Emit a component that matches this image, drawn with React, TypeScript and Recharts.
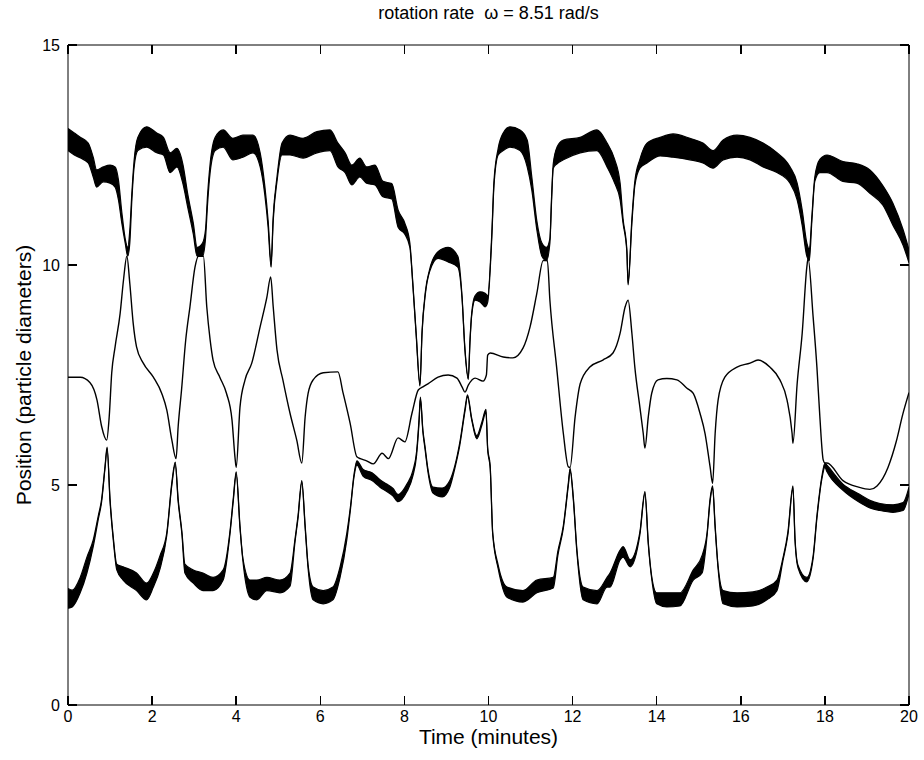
import { ComposedChart, Area, Line, XAxis, YAxis, Label, ReferenceLine } from "recharts";

const xTicks = [0, 2, 4, 6, 8, 10, 12, 14, 16, 18, 20];
const yTicks = [0, 5, 10, 15];

// [time, lower edge, upper edge] of the thick top trace
const upperBand: [number, number, number][] = [
  [0, 12.6, 13.1], [0.15, 12.5, 13.0], [0.3, 12.43, 12.9], [0.48, 12.32, 12.77], [0.6, 12.0, 12.45],
  [0.68, 11.77, 12.16], [0.84, 11.89, 12.23], [1.0, 11.86, 12.27], [1.12, 11.77, 12.23], [1.2, 11.48, 11.93],
  [1.28, 10.95, 11.2], [1.36, 10.5, 10.6], [1.42, 10.2, 10.4], [1.47, 10.5, 10.8], [1.52, 11.5, 11.65],
  [1.57, 12.2, 12.35], [1.66, 12.6, 12.9], [1.87, 12.68, 13.14], [2.11, 12.55, 13.0], [2.27, 12.5, 12.9],
  [2.43, 12.1, 12.55], [2.59, 12.23, 12.65], [2.73, 11.86, 12.3], [2.85, 11.3, 11.6], [2.98, 10.7, 10.95],
  [3.07, 10.2, 10.4], [3.2, 10.2, 10.5], [3.27, 10.6, 10.8], [3.32, 11.4, 11.6], [3.38, 12.1, 12.3],
  [3.5, 12.6, 12.9], [3.69, 12.68, 13.07], [3.92, 12.39, 12.88], [4.16, 12.45, 12.95], [4.4, 12.55, 12.95],
  [4.57, 12.23, 12.55], [4.68, 11.6, 11.8], [4.76, 10.85, 11.0], [4.83, 9.95, 10.05], [4.88, 11.0, 11.1],
  [4.97, 11.9, 12.0], [5.09, 12.5, 12.77], [5.28, 12.5, 12.95], [5.59, 12.43, 12.88], [5.92, 12.55, 13.03],
  [6.23, 12.6, 13.07], [6.42, 12.23, 12.77], [6.59, 12.1, 12.55], [6.75, 11.82, 12.27], [6.94, 12.0, 12.43],
  [7.1, 11.86, 12.23], [7.3, 11.82, 12.27], [7.49, 11.55, 11.9], [7.7, 11.5, 11.85], [7.85, 10.86, 11.25],
  [8.01, 10.7, 10.95], [8.13, 10.4, 10.5], [8.2, 9.55, 9.6], [8.28, 8.4, 8.45], [8.37, 7.25, 7.3],
  [8.42, 8.45, 8.5], [8.5, 9.35, 9.4], [8.6, 9.85, 9.9], [8.8, 10.15, 10.3], [9.04, 10.07, 10.4],
  [9.27, 9.95, 10.2], [9.37, 9.25, 9.3], [9.44, 8.05, 8.1], [9.52, 7.4, 7.45], [9.56, 8.25, 8.3],
  [9.6, 8.85, 8.9], [9.68, 9.2, 9.3], [9.8, 9.16, 9.39], [9.92, 9.05, 9.36], [9.98, 9.15, 9.3],
  [10.08, 10.65, 10.75], [10.13, 11.8, 11.9], [10.23, 12.5, 12.65], [10.35, 12.6, 13.0], [10.51, 12.68, 13.14],
  [10.75, 12.6, 13.07], [10.92, 12.23, 12.84], [11.03, 11.7, 12.0], [11.15, 10.8, 11.0], [11.27, 10.2, 10.5],
  [11.38, 10.1, 10.4], [11.46, 10.5, 10.6], [11.5, 11.45, 11.55], [11.54, 12.2, 12.3], [11.63, 12.3, 12.68],
  [11.78, 12.39, 12.84], [12.18, 12.55, 12.9], [12.58, 12.6, 13.07], [12.82, 12.23, 12.77], [13.0, 11.86, 12.4],
  [13.13, 11.48, 11.86], [13.2, 10.95, 11.05], [13.29, 10.3, 10.35], [13.32, 9.55, 9.6], [13.41, 10.95, 11.05],
  [13.48, 11.8, 11.9], [13.6, 12.2, 12.4], [13.77, 12.32, 12.77], [14.08, 12.48, 12.9], [14.39, 12.45, 12.98],
  [14.79, 12.39, 12.88], [15.1, 12.32, 12.77], [15.34, 12.2, 12.6], [15.58, 12.39, 12.84], [15.91, 12.45, 12.95],
  [16.22, 12.39, 12.9], [16.53, 12.23, 12.77], [16.86, 12.1, 12.55], [17.17, 11.86, 12.23], [17.34, 11.48, 11.86],
  [17.46, 10.9, 11.25], [17.57, 10.2, 10.5], [17.63, 10.1, 10.35], [17.69, 11.0, 11.1], [17.76, 11.9, 12.0],
  [17.88, 12.1, 12.4], [18.05, 12.1, 12.5], [18.43, 11.9, 12.35], [18.76, 11.86, 12.3], [19.07, 11.63, 12.16],
  [19.38, 11.36, 11.8], [19.62, 10.9, 11.4], [19.86, 10.45, 10.8], [20.0, 10.05, 10.34],
];

// [time, position] of the thin middle trace
const middleLine: [number, number][] = [
  [0, 7.45], [0.29, 7.45], [0.52, 7.33], [0.69, 6.93], [0.8, 6.33], [0.92, 6.02], [0.98, 6.55], [1.04, 7.55],
  [1.12, 8.14], [1.24, 8.9], [1.32, 9.66], [1.4, 10.2], [1.47, 9.58], [1.55, 8.68], [1.63, 8.14], [1.79, 7.77],
  [2.03, 7.45], [2.23, 7.08], [2.35, 6.7], [2.47, 6.02], [2.57, 5.6], [2.62, 6.33], [2.7, 7.16], [2.8, 8.3],
  [2.9, 9.05], [3.02, 9.95], [3.1, 10.2], [3.22, 10.2], [3.3, 9.05], [3.38, 8.3], [3.45, 7.84], [3.61, 7.45],
  [3.77, 7.08], [3.9, 6.48], [3.97, 5.64], [4.0, 5.4], [4.09, 6.77], [4.21, 7.39], [4.37, 7.77], [4.57, 8.6],
  [4.73, 9.27], [4.82, 9.73], [4.88, 9.05], [4.97, 8.07], [5.11, 7.39], [5.28, 6.63], [5.44, 6.02], [5.56, 5.5],
  [5.64, 6.55], [5.71, 7.08], [5.83, 7.39], [6.07, 7.55], [6.42, 7.57], [6.54, 7.1], [6.71, 6.4], [6.87, 5.64],
  [6.95, 5.6], [7.1, 5.55], [7.26, 5.48], [7.47, 5.72], [7.62, 5.6], [7.85, 6.07], [8.01, 5.98], [8.18, 6.63],
  [8.33, 7.16], [8.44, 7.23], [8.56, 7.3], [8.8, 7.45], [9.04, 7.5], [9.25, 7.43], [9.37, 7.23], [9.44, 7.11],
  [9.52, 7.27], [9.68, 7.43], [9.87, 7.36], [9.95, 7.5], [9.98, 7.95], [10.04, 8.0], [10.35, 7.91], [10.58, 7.89],
  [10.82, 8.11], [10.99, 8.6], [11.15, 9.36], [11.3, 10.1], [11.4, 10.1], [11.46, 9.2], [11.62, 7.68], [11.78, 6.17],
  [11.9, 5.41], [11.94, 5.4], [12.06, 6.55], [12.18, 7.3], [12.41, 7.68], [12.72, 7.84], [12.96, 8.0], [13.13, 8.45],
  [13.25, 9.05], [13.32, 9.2], [13.41, 8.45], [13.48, 7.68], [13.6, 6.77], [13.68, 6.17], [13.72, 5.84], [13.8, 6.55],
  [13.88, 7.08], [14.03, 7.39], [14.24, 7.42], [14.48, 7.39], [14.72, 7.2], [14.87, 7.08], [15.03, 6.63], [15.15, 6.17],
  [15.27, 5.41], [15.33, 5.04], [15.39, 6.17], [15.46, 6.93], [15.62, 7.45], [15.91, 7.68], [16.22, 7.77], [16.41, 7.84],
  [16.69, 7.68], [16.93, 7.39], [17.1, 6.93], [17.22, 6.17], [17.24, 5.95], [17.34, 7.3], [17.46, 8.45], [17.57, 9.95],
  [17.6, 10.15], [17.72, 8.82], [17.81, 7.68], [17.88, 6.55], [17.96, 5.57], [18.0, 5.5], [18.05, 5.5], [18.43, 5.1],
  [18.8, 4.95], [19.07, 4.9], [19.24, 4.98], [19.5, 5.4], [19.7, 6.0], [19.85, 6.6], [20.0, 7.1],
];

// [time, lower edge, upper edge] of the thick bottom trace
const lowerBand: [number, number, number][] = [
  [0, 2.2, 2.65], [0.1, 2.23, 2.61], [0.29, 2.55, 2.9], [0.45, 3.0, 3.36], [0.6, 3.6, 3.75], [0.72, 4.22, 4.3],
  [0.8, 4.62, 4.68], [0.88, 5.38, 5.42], [0.93, 5.82, 5.86], [1.0, 4.62, 4.68], [1.08, 3.72, 3.78], [1.16, 3.07, 3.2],
  [1.31, 2.84, 3.14], [1.63, 2.6, 3.0], [1.87, 2.39, 2.77], [2.03, 2.68, 3.0], [2.19, 3.1, 3.4], [2.35, 3.86, 3.92],
  [2.47, 5.0, 5.06], [2.55, 5.47, 5.52], [2.62, 4.62, 4.68], [2.71, 3.87, 3.93], [2.78, 3.0, 3.2], [2.98, 2.77, 3.07],
  [3.21, 2.6, 3.0], [3.45, 2.6, 2.9], [3.69, 2.84, 3.07], [3.85, 3.87, 3.93], [3.93, 4.63, 4.69], [4.0, 5.24, 5.3],
  [4.09, 4.02, 4.08], [4.16, 3.27, 3.33], [4.33, 2.45, 2.84], [4.49, 2.39, 2.84], [4.73, 2.6, 2.9], [5.04, 2.55, 2.84],
  [5.28, 2.7, 3.0], [5.4, 3.72, 3.78], [5.47, 4.24, 4.3], [5.56, 5.05, 5.1], [5.64, 4.02, 4.08], [5.71, 3.1, 3.18],
  [5.83, 2.39, 2.68], [6.07, 2.3, 2.6], [6.3, 2.39, 2.68], [6.47, 2.9, 3.14], [6.63, 3.75, 3.9], [6.72, 4.47, 4.53],
  [6.8, 5.17, 5.23], [6.87, 5.45, 5.55], [7.02, 5.2, 5.35], [7.23, 5.1, 5.28], [7.42, 4.95, 5.12], [7.58, 4.85, 5.02],
  [7.73, 4.75, 4.92], [7.85, 4.62, 4.78], [8.06, 4.85, 5.02], [8.2, 5.2, 5.32], [8.29, 5.68, 5.76], [8.35, 6.45, 6.52],
  [8.38, 6.95, 7.0], [8.44, 6.2, 6.25], [8.49, 5.82, 5.88], [8.56, 5.3, 5.36], [8.68, 4.82, 4.95], [8.9, 4.73, 4.93],
  [9.08, 4.95, 5.1], [9.2, 5.38, 5.44], [9.32, 5.92, 5.98], [9.44, 6.67, 6.73], [9.5, 7.0, 7.05], [9.6, 6.48, 6.52],
  [9.72, 6.05, 6.12], [9.84, 6.35, 6.42], [9.94, 6.65, 6.72], [9.98, 5.8, 5.85], [10.04, 5.38, 5.44], [10.1, 3.88, 3.92],
  [10.23, 3.1, 3.18], [10.44, 2.45, 2.68], [10.82, 2.34, 2.6], [11.15, 2.55, 2.84], [11.54, 2.66, 2.9], [11.65, 3.4, 3.5],
  [11.78, 4.02, 4.08], [11.9, 5.0, 5.06], [11.94, 5.32, 5.38], [12.02, 4.63, 4.69], [12.1, 3.5, 3.56], [12.25, 2.39, 2.68],
  [12.58, 2.3, 2.6], [12.82, 2.68, 2.9], [12.89, 2.68, 3.0], [13.13, 3.3, 3.52], [13.2, 3.36, 3.6], [13.37, 3.14, 3.3],
  [13.6, 3.87, 3.93], [13.72, 4.79, 4.85], [13.8, 3.65, 3.7], [13.88, 2.88, 2.93], [14.0, 2.3, 2.55], [14.24, 2.23, 2.55],
  [14.55, 2.25, 2.55], [14.87, 2.84, 3.07], [15.08, 3.0, 3.4], [15.2, 3.87, 3.93], [15.27, 4.63, 4.69], [15.33, 4.93, 4.98],
  [15.39, 4.02, 4.08], [15.46, 3.1, 3.16], [15.58, 2.3, 2.6], [15.91, 2.23, 2.55], [16.29, 2.25, 2.57], [16.62, 2.39, 2.68],
  [16.86, 2.6, 2.84], [17.0, 3.27, 3.33], [17.12, 3.87, 3.93], [17.24, 4.92, 4.98], [17.29, 3.72, 3.78], [17.36, 3.12, 3.18],
  [17.57, 2.8, 2.9], [17.72, 3.33, 3.39], [17.81, 4.24, 4.3], [17.93, 5.15, 5.21], [18.0, 5.4, 5.5], [18.05, 5.3, 5.45],
  [18.43, 4.88, 5.02], [18.8, 4.62, 4.8], [19.07, 4.48, 4.65], [19.31, 4.42, 4.58], [19.62, 4.38, 4.55], [19.86, 4.42, 4.6],
  [20.0, 4.8, 4.95],
];

const font = "'Liberation Sans', Arial, Helvetica, sans-serif";
const X_MIN = 0, X_MAX = 20, Y_MIN = 0, Y_MAX = 15;
// inward tick length in data units (~9 px on each axis)
const TICK_DX = 0.21;
const TICK_DY = 0.2;

const toBand = (rows: [number, number, number][]) => rows.map(([t, lo, hi]) => ({ t, v: [lo, hi] }));
const upperData = toBand(upperBand);
const lowerData = toBand(lowerBand);
const middleData = middleLine.map(([t, v]) => ({ t, v }));

const BottomTick = ({ x, y, payload }: any) => (
  <text x={x} y={y + 17} textAnchor="middle" fontFamily={font} fontSize={16} fill="#000">{payload.value}</text>
);
const LeftTick = ({ x, y, payload }: any) => (
  <text x={x - 8} y={y} dy="0.36em" textAnchor="end" fontFamily={font} fontSize={16} fill="#000">{payload.value}</text>
);

const YTitle = (props: any) => {
  const vb = props.viewBox;
  const cx = 23;
  const cy = vb.y + vb.height / 2;
  return (
    <text x={cx} y={cy} transform={`rotate(-90 ${cx} ${cy})`} textAnchor="middle" dominantBaseline="central"
      fontFamily={font} fontSize={21} fill="#000">
      Position (particle diameters)
    </text>
  );
};

const Title = (props: any) => {
  const vb = props.viewBox;
  return (
    <text x={vb.x + vb.width / 2} y={19} textAnchor="middle" fontFamily={font} fontSize={18} fill="#000">
      {"rotation rate \u00a0ω = 8.51 rad/s"}
    </text>
  );
};

const lineStyle = { stroke: "#000", strokeWidth: 1 };

export default function App() {
  return (
    <div style={{ position: "absolute", left: 0, top: 0, width: 924, height: 760, background: "#fff" }}>
      <ComposedChart width={924} height={760} margin={{ top: 44, right: 14, bottom: 0, left: 0 }}>
        <XAxis xAxisId="b" type="number" dataKey="t" domain={[X_MIN, X_MAX]} ticks={xTicks} allowDataOverflow
          orientation="bottom" height={55} tickSize={0} tickMargin={0} tick={BottomTick} tickLine={false}
          axisLine={lineStyle} interval={0}>
          <Label value="Time (minutes)" position="insideBottom" offset={16}
            style={{ fontFamily: font, fontSize: 21, fill: "#000" }} />
        </XAxis>
        <XAxis xAxisId="top" type="number" dataKey="t" domain={[X_MIN, X_MAX]} ticks={xTicks} allowDataOverflow
          orientation="top" height={1} tick={false} tickLine={false} axisLine={lineStyle}>
          <Label content={Title} />
        </XAxis>
        <YAxis yAxisId="l" type="number" domain={[Y_MIN, Y_MAX]} ticks={yTicks} allowDataOverflow
          width={68} tickSize={0} tickMargin={0} tick={LeftTick} tickLine={false}
          axisLine={lineStyle} interval={0}>
          <Label content={YTitle} />
        </YAxis>
        <YAxis yAxisId="r" orientation="right" type="number" domain={[Y_MIN, Y_MAX]} ticks={yTicks} allowDataOverflow
          width={1} tick={false} tickLine={false} axisLine={lineStyle} />

        {xTicks.map((t) => (
          <ReferenceLine key={`xb${t}`} xAxisId="b" yAxisId="l" stroke="#000" strokeWidth={1.5} ifOverflow="visible"
            shapeRendering="crispEdges" segment={[{ x: t, y: Y_MIN }, { x: t, y: Y_MIN + TICK_DY }]} />
        ))}
        {xTicks.map((t) => (
          <ReferenceLine key={`xt${t}`} xAxisId="b" yAxisId="l" stroke="#000" strokeWidth={1.5} ifOverflow="visible"
            shapeRendering="crispEdges" segment={[{ x: t, y: Y_MAX }, { x: t, y: Y_MAX - TICK_DY }]} />
        ))}
        {yTicks.map((v) => (
          <ReferenceLine key={`yl${v}`} xAxisId="b" yAxisId="l" stroke="#000" strokeWidth={1.5} ifOverflow="visible"
            shapeRendering="crispEdges" segment={[{ x: X_MIN, y: v }, { x: X_MIN + TICK_DX, y: v }]} />
        ))}
        {yTicks.map((v) => (
          <ReferenceLine key={`yr${v}`} xAxisId="b" yAxisId="l" stroke="#000" strokeWidth={1.5} ifOverflow="visible"
            shapeRendering="crispEdges" segment={[{ x: X_MAX, y: v }, { x: X_MAX - TICK_DX, y: v }]} />
        ))}

        <Area xAxisId="b" yAxisId="l" data={upperData} dataKey="v" type="monotone" stroke="#000"
          strokeWidth={1.2} fill="#000" fillOpacity={1} dot={false} activeDot={false} isAnimationActive={false} />
        <Area xAxisId="b" yAxisId="l" data={lowerData} dataKey="v" type="monotone" stroke="#000"
          strokeWidth={1.2} fill="#000" fillOpacity={1} dot={false} activeDot={false} isAnimationActive={false} />
        <Line xAxisId="b" yAxisId="l" data={middleData} dataKey="v" type="monotone" stroke="#000"
          strokeWidth={1.4} dot={false} activeDot={false} isAnimationActive={false} />
      </ComposedChart>
    </div>
  );
}
